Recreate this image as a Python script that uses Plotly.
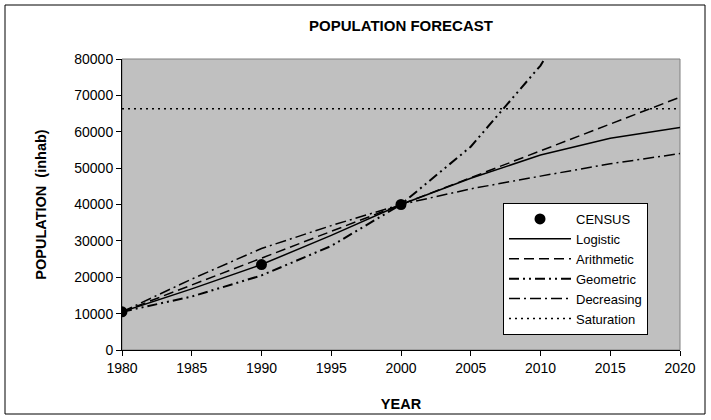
import plotly.graph_objects as go

years = [1980, 1985, 1990, 1995, 2000, 2005, 2010, 2015, 2020]
census_years = [1980, 1990, 2000]
census_pop = [10500, 23500, 40000]
logistic = [10500, 16800, 23500, 31500, 40000, 47200, 53600, 58200, 61200]
arithmetic = [10500, 17900, 25300, 32600, 40000, 47400, 54800, 62100, 69500]
geometric = [10500, 14700, 20500, 28600, 40000, 55900, 78200, 109000, 152000]
decreasing = [10500, 19500, 27900, 34200, 40000, 44300, 47800, 51200, 54000]
saturation = [66300] * len(years)

x_ticks = [1980, 1985, 1990, 1995, 2000, 2005, 2010, 2015, 2020]
y_ticks = [0, 10000, 20000, 30000, 40000, 50000, 60000, 70000, 80000]

FONT = "Liberation Sans, Arial, sans-serif"

fig = go.Figure()
fig.add_trace(go.Scatter(x=census_years, y=census_pop, mode="markers", name="CENSUS",
                         marker=dict(color="black", size=11, symbol="circle")))
fig.add_trace(go.Scatter(x=years, y=logistic, mode="lines", name="Logistic",
                         line=dict(color="black", width=1.5)))
fig.add_trace(go.Scatter(x=years, y=arithmetic, mode="lines", name="Arithmetic",
                         line=dict(color="black", width=1.5, dash="10px,5px")))
fig.add_trace(go.Scatter(x=years, y=geometric, mode="lines", name="Geometric",
                         line=dict(color="black", width=2, dash="10px,4px,2px,4px,2px,4px")))
fig.add_trace(go.Scatter(x=years, y=decreasing, mode="lines", name="Decreasing",
                         line=dict(color="black", width=1.5, dash="11px,4px,2px,4px")))
fig.add_trace(go.Scatter(x=years, y=saturation, mode="lines", name="Saturation",
                         line=dict(color="black", width=1.5, dash="2px,4px")))

L, R, T, B = 122, 31, 59, 70
W, H = 711, 420
pw, ph = W - L - R, H - T - B

def px_x(p):
    return (p - L) / pw

def px_y(p):
    return (H - B - p) / ph

fig.update_layout(
    width=W, height=H,
    margin=dict(l=L, r=R, t=T, b=B, autoexpand=False),
    paper_bgcolor="white",
    plot_bgcolor="#C0C0C0",
    font=dict(family=FONT, size=14, color="black"),
    title=dict(text="<b>POPULATION FORECAST</b>", x=0.5, xref="paper", xanchor="center",
               y=1 - 26 / H, yanchor="middle", font=dict(size=15, family=FONT)),
    showlegend=True,
    legend=dict(x=px_x(503), y=px_y(203), xanchor="left", yanchor="top",
                bgcolor="white", bordercolor="black", borderwidth=1,
                font=dict(size=13, family=FONT), itemwidth=62,
                tracegroupgap=0, traceorder="normal"),
    xaxis=dict(range=[1980, 2020], tickvals=x_ticks, ticktext=[str(v) for v in x_ticks],
               showgrid=False, zeroline=False, showline=True, linecolor="black", linewidth=1,
               ticks="outside", ticklen=5, tickcolor="black",
               title=dict(text="<b>YEAR</b>", font=dict(size=14.5), standoff=24)),
    yaxis=dict(range=[0, 80000], tickvals=y_ticks, ticktext=[str(v) for v in y_ticks],
               showgrid=False, zeroline=False, showline=True, linecolor="black", linewidth=1,
               ticks="outside", ticklen=5, tickcolor="black",
               title=dict(text="<b>POPULATION  (inhab)</b>", font=dict(size=14.5), standoff=24)),
)

# plot area border (gray top/right)
fig.add_shape(type="rect", xref="paper", yref="paper", x0=0, y0=0, x1=1, y1=1,
              line=dict(color="#808080", width=1), layer="below")
# outer chart border
fig.add_shape(type="rect", xref="paper", yref="paper",
              x0=px_x(5), x1=px_x(705), y0=px_y(414), y1=px_y(5),
              line=dict(color="black", width=1))

fig.write_html("out.html", config={"displayModeBar": False},
               post_script="document.body.style.margin='0';document.body.style.overflow='hidden';")
